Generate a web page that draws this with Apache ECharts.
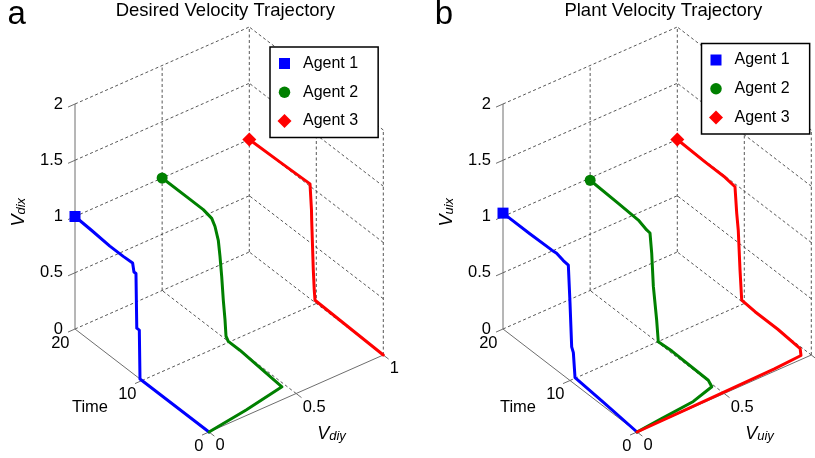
<!DOCTYPE html>
<html>
<head>
<meta charset="utf-8">
<script src="https://cdn.jsdelivr.net/npm/echarts@6/dist/echarts.min.js"></script>
<style>
html,body{margin:0;padding:0;background:#fff;}
#chart{width:815px;height:458px;}
</style>
</head>
<body>
<div id="chart"></div>
<script>
// ---------------- data ----------------
const timeTicks = [0, 10, 20];
const vyTicks = [0, 0.5, 1];
const vxTicks = [0, 0.5, 1, 1.5, 2];
const timeTickLabels = ['0', '10', '20'];
const vyTickLabels = ['0', '0.5', '1'];
const vxTickLabels = ['0', '0.5', '1', '1.5', '2'];
const agentNames = ['Agent 1', 'Agent 2', 'Agent 3'];
const panelTitles = ['Desired Velocity Trajectory', 'Plant Velocity Trajectory'];
const panelLetters = ['a', 'b'];
const xLabelSubs = ['dix', 'uix'];
const yLabelSubs = ['diy', 'uiy'];
const timeLabel = 'Time';

// Panel a : desired velocity
const desA1Time = [0, 10.3, 10.4, 10.78, 10.9, 11.2, 11.4, 12.8, 14.8, 17.5, 20];
const desA1Vy   = [0, 0, 0, 0, 0, 0, 0, 0, 0, 0, 0];
const desA1Vx   = [0, 0, 0.43, 0.43, 0.91, 0.91, 0.98, 0.975, 0.975, 0.99, 1.0];

const desA2Time = [0, 0.7, 1.6, 8.4, 10.13, 10.47, 10.62, 10.87, 11.11, 11.37, 11.62, 12.11, 12.6, 13.86, 15.84, 20];
const desA2Vy   = [0, 0.24, 0.48, 0.5, 0.5, 0.5, 0.5, 0.5, 0.5, 0.5, 0.5, 0.5, 0.5, 0.5, 0.5, 0.5];
const desA2Vx   = [0, 0, 0, 0, 0, 0.03, 0.17, 0.33, 0.53, 0.7, 0.83, 0.93, 0.98, 1.0, 1.0, 1.0];

const desA3Time = [0, 10.19, 10.3, 10.45, 10.69, 10.72, 10.94, 15, 20];
const desA3Vy   = [1, 1, 1, 1, 1, 1, 1, 1, 1];
const desA3Vx   = [0, 0.02, 0.1, 0.28, 0.71, 0.8, 1.02, 1.01, 1.0];

// Panel b : plant velocity
const plA1Time = [0, 5, 9.25, 9.5, 9.75, 10.0, 10.25, 11.0, 12.0, 12.7, 16, 20];
const plA1Vy   = [0, 0, 0, 0, 0, 0, 0, 0, 0, 0, 0, 0];
const plA1Vx   = [0, 0.035, 0.06, 0.27, 0.31, 0.69, 1.015, 1.02, 1.04, 1.035, 1.03, 1.03];

const plA2Time = [0, 0.3, 0.7, 1.5, 2.5, 7.8, 9.83, 10.07, 10.57, 10.81, 11.07, 11.56, 12.81, 15.8, 20];
const plA2Vy   = [0, 0.15, 0.35, 0.487, 0.505, 0.5, 0.5, 0.5, 0.5, 0.5, 0.5, 0.5, 0.5, 0.5, 0.5];
const plA2Vx   = [0, 0, 0, 0, 0, 0.02, 0.01, 0.19, 0.47, 0.75, 0.92, 0.925, 0.955, 0.967, 0.98];

const plA3Time = [0, 0.1, 0.3, 0.5, 1.4, 5, 8.4, 10.39, 10.64, 10.9, 11.13, 11.39, 12.88, 15.87, 20];
const plA3Vy   = [0, 0.3, 0.8, 0.96, 0.99, 1.0, 1.0, 1.0, 1.0, 1.0, 1.0, 1.0, 1.0, 1.0, 1.0];
const plA3Vx   = [0, 0, 0, 0, 0, 0, 0, 0.013, 0.27, 0.61, 0.75, 0.974, 0.99, 0.99, 1.0];

// ---------------- layout / style ----------------
const W = 815, H = 458;
const ORIGIN = [209, 432];
const T_VEC = [-6.7, -5.15];
const VY_VEC = [174.3, -77];
const VX_VEC = [0, -112.5];
const PANEL_DX = [0, 428];
const FONT = '"Liberation Sans", Arial, Helvetica, sans-serif';
const COLORS = ['#0000ff', '#008000', '#ff0000'];
const TICK_VY = 0.04, TICK_T = 0.8;

function proj(p, t, vy, vx) {
  return [ORIGIN[0] + PANEL_DX[p] + T_VEC[0] * t + VY_VEC[0] * vy + VX_VEC[0] * vx,
          ORIGIN[1] + T_VEC[1] * t + VY_VEC[1] * vy + VX_VEC[1] * vx];
}

const panels = [
  [[desA1Time, desA1Vy, desA1Vx], [desA2Time, desA2Vy, desA2Vx], [desA3Time, desA3Vy, desA3Vx]],
  [[plA1Time, plA1Vy, plA1Vx], [plA2Time, plA2Vy, plA2Vx], [plA3Time, plA3Vy, plA3Vx]]
];

const T_MAX = timeTicks[timeTicks.length - 1];
const VY_MAX = vyTicks[vyTicks.length - 1];
const VX_MAX = vxTicks[vxTicks.length - 1];

// 3D segments of the box
const segs = [];
const seen = {};
function addSeg(a, b, kind) {
  const k = a.join(',') + '|' + b.join(',');
  if (seen[k]) return; seen[k] = 1;
  segs.push({ a, b, kind });
}
vxTicks.forEach(v => addSeg([T_MAX, 0, v], [T_MAX, VY_MAX, v], 'grid'));
vyTicks.filter(v => v > 0).forEach(v => addSeg([T_MAX, v, 0], [T_MAX, v, VX_MAX], 'grid'));
vxTicks.forEach(v => addSeg([0, VY_MAX, v], [T_MAX, VY_MAX, v], 'grid'));
timeTicks.filter(t => t < T_MAX).forEach(t => addSeg([t, VY_MAX, 0], [t, VY_MAX, VX_MAX], 'grid'));
timeTicks.filter(t => t > 0 && t < T_MAX).forEach(t => addSeg([t, 0, 0], [t, VY_MAX, 0], 'grid'));
vyTicks.filter(v => v > 0 && v < VY_MAX).forEach(v => addSeg([0, v, 0], [T_MAX, v, 0], 'grid'));
addSeg([0, 0, 0], [T_MAX, 0, 0], 'axis');
addSeg([0, 0, 0], [0, VY_MAX, 0], 'axis');
addSeg([T_MAX, 0, 0], [T_MAX, 0, VX_MAX], 'axis');
vxTicks.forEach(v => addSeg([T_MAX, 0, v], [T_MAX, -TICK_VY, v], 'tick'));
timeTicks.forEach(t => addSeg([t, 0, 0], [t, -TICK_VY, 0], 'tick'));
vyTicks.forEach(v => addSeg([0, v, 0], [-TICK_T, v, 0], 'tick'));

const series = [];

for (let p = 0; p < 2; p++) {
  const segData = segs.map(s => proj(p, ...s.a).concat(proj(p, ...s.b)));
  series.push({
    type: 'custom', coordinateSystem: 'cartesian2d', silent: true, clip: false, z: 1,
    encode: { x: [0, 2], y: [1, 3] },
    data: segData,
    renderItem: function (params, api) {
      const s = segs[params.dataIndex];
      const p1 = api.coord([api.value(0), api.value(1)]);
      const p2 = api.coord([api.value(2), api.value(3)]);
      const style = s.kind === 'grid'
        ? { stroke: '#444444', lineWidth: 0.9, lineDash: [3, 2.5] }
        : { stroke: '#6e6e6e', lineWidth: 1 };
      return { type: 'line', shape: { x1: p1[0], y1: p1[1], x2: p2[0], y2: p2[1] }, style };
    }
  });

  // texts
  const texts = [];
  vxTicks.forEach((v, i) => {
    const q = proj(p, T_MAX, 0, v);
    texts.push({ x: q[0] - 12, y: q[1], text: vxTickLabels[i], align: 'right', size: 16.5 });
  });
  timeTicks.forEach((t, i) => {
    const q = proj(p, t, 0, 0);
    texts.push({ x: q[0] - 5.5, y: q[1] + 14.4, text: timeTickLabels[i], align: 'right', size: 16.5 });
  });
  vyTicks.forEach((v, i) => {
    const q = proj(p, 0, v, 0);
    texts.push({ x: q[0] + 6.5, y: q[1] + 13.8, text: vyTickLabels[i], align: 'left', size: 16.5 });
  });
  {
    const q = proj(p, T_MAX / 2, 0, 0);
    texts.push({ x: q[0] - 52, y: q[1] + 27, text: timeLabel, align: 'center', size: 16.5 });
  }
  {
    const q = proj(p, 0, VY_MAX / 2, 0);
    texts.push({ x: q[0] + 21, y: q[1] + 40, rich: true, text: '{v|V}{s|' + yLabelSubs[p] + '}', align: 'left' });
  }
  {
    const q = proj(p, T_MAX, 0, VX_MAX / 2);
    texts.push({ x: q[0] - 56, y: q[1] + 10, rich: true, rot: Math.PI / 2, text: '{v|V}{s|' + xLabelSubs[p] + '}', align: 'left' });
  }
  {
    const top = proj(p, T_MAX, VY_MAX, VX_MAX);
    texts.push({ x: top[0] - (p === 0 ? 24 : 14), y: 11, text: panelTitles[p], align: 'center', size: 18.5 });
    texts.push({ x: PANEL_DX[p] + (p === 0 ? 16.7 : 16), y: 15.3, text: panelLetters[p], align: 'center', size: 33 });
  }

  series.push({
    type: 'custom', coordinateSystem: 'cartesian2d', silent: true, clip: false, z: 3,
    encode: { x: 0, y: 1 },
    data: texts.map(o => [o.x, o.y]),
    renderItem: function (params, api) {
      const o = texts[params.dataIndex];
      const c = api.coord([api.value(0), api.value(1)]);
      const style = { text: o.text, fill: '#000', align: o.align, verticalAlign: 'middle' };
      if (o.rich) {
        style.rich = {
          v: { fontSize: 18, fontStyle: 'italic', fontFamily: FONT, lineHeight: 18, fill: '#000' },
          s: { fontSize: 13, fontStyle: 'italic', fontFamily: FONT, lineHeight: 13, verticalAlign: 'bottom', padding: [16, 0, 0, 0], fill: '#000' }
        };
      } else {
        style.font = o.size + 'px ' + FONT;
      }
      return { type: 'text', x: c[0], y: c[1], rotation: o.rot || 0, style };
    }
  });

  // trajectories
  panels[p].forEach((tr, k) => {
    const [tt, vy, vx] = tr;
    const pts = tt.map((t, i) => proj(p, t, vy[i], vx[i]));
    series.push({
      type: 'line', silent: true, z: 4, data: pts, showSymbol: false, symbol: 'none',
      clip: false, animation: false,
      lineStyle: { width: 3, color: COLORS[k], join: 'round', cap: 'round' },
      itemStyle: { color: COLORS[k] }
    });
  });
  // end markers
  const syms = ['rect', 'circle', 'diamond'];
  const sizes = [11, 11, 14];
  panels[p].forEach((tr, k) => {
    const [tt, vy, vx] = tr;
    const n = tt.length - 1;
    series.push({
      name: agentNames[k], type: 'scatter', silent: true, z: 5,
      symbol: syms[k], symbolSize: sizes[k],
      itemStyle: { color: COLORS[k], opacity: 1 },
      data: [proj(p, tt[n], vy[n], vx[n])]
    });
  });
}

const legendIcons = [
  'path://M0,0M14,14M1.5,1.5H12.5V12.5H1.5Z',
  'path://M0,0M14,14M1.25,7A5.75,5.75,0,1,1,12.75,7A5.75,5.75,0,1,1,1.25,7Z',
  'path://M7,0L14,7L7,14L0,7Z'
];
function makeLegend(left, top) {
  return {
    orient: 'vertical', left: left, top: top,
    padding: [8.5, 20, 8.5, 7.5],
    itemWidth: 14, itemHeight: 14, itemGap: 12.7,
    backgroundColor: '#fff', borderColor: '#000', borderWidth: 1.5,
    selectedMode: false,
    textStyle: { fontSize: 16, fontFamily: FONT, color: '#000', lineHeight: 14, padding: [0, 0, 0, 6.5] },
    data: agentNames.map((n, i) => ({ name: n, icon: legendIcons[i] })),
    z: 10
  };
}

const chart = echarts.init(document.getElementById('chart'), null, { renderer: 'canvas', width: W, height: H });
chart.setOption({
  animation: false,
  backgroundColor: '#fff',
  grid: { left: 0, top: 0, right: 0, bottom: 0 },
  xAxis: { type: 'value', min: 0, max: W, show: false },
  yAxis: { type: 'value', min: 0, max: H, inverse: true, show: false },
  legend: [makeLegend(270, 47), makeLegend(701.5, 43.5)],
  series: series
});
</script>
</body>
</html>
